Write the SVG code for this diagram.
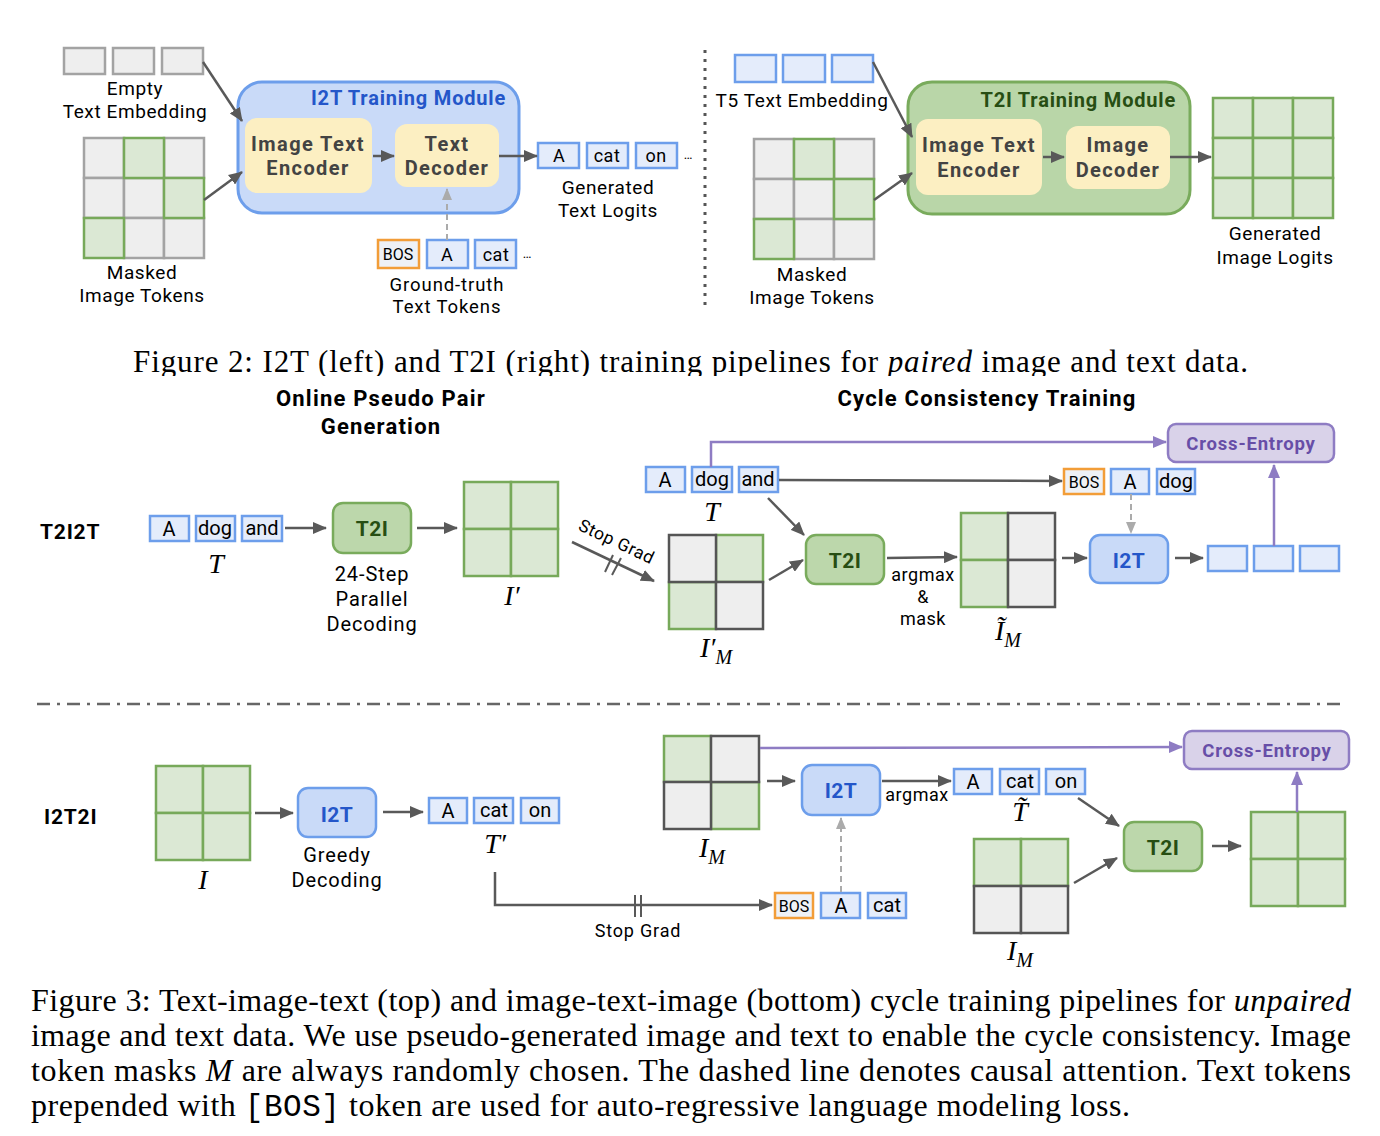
<svg xmlns="http://www.w3.org/2000/svg" width="1380" height="1136" viewBox="0 0 1380 1136">
<defs>
<marker id="ah" markerUnits="userSpaceOnUse" markerWidth="14" markerHeight="12" refX="13" refY="6" orient="auto"><path d="M0,0 L14,6 L0,12 z" fill="#595959"/></marker>
<marker id="ahl" markerUnits="userSpaceOnUse" markerWidth="12" markerHeight="10" refX="11" refY="5" orient="auto"><path d="M0,0 L12,5 L0,10 z" fill="#ababab"/></marker>
<marker id="ahp" markerUnits="userSpaceOnUse" markerWidth="14" markerHeight="12" refX="13" refY="6" orient="auto"><path d="M0,0 L14,6 L0,12 z" fill="#8e7cc3"/></marker>
<clipPath id="capclip"><rect x="0" y="330" width="1380" height="46"/></clipPath>
</defs>
<style>
text{font-family:Roboto,"Liberation Sans",sans-serif;fill:#000}
.lbl{font-size:19px;letter-spacing:0.6px;text-anchor:middle}
.lb2{font-size:20px;letter-spacing:0.9px;text-anchor:middle}
.sm{font-size:18px;letter-spacing:0.5px;text-anchor:middle}
.tokb{font-size:20px;text-anchor:middle}
.bold{font-weight:bold}
.hd{font-size:22px;font-weight:bold;letter-spacing:1.2px;text-anchor:middle}
.ttl{font-size:20px;font-weight:bold;letter-spacing:0.8px;text-anchor:end}
.yb{fill:#fcefc2}
.ytx{font-size:20px;font-weight:bold;letter-spacing:1.4px;fill:#434343;text-anchor:middle}
.t{fill:#e4ecfb;stroke:#6d9eeb;stroke-width:2.5}
.bos{fill:#eef1f6;stroke:#f29d38;stroke-width:2.5}
.ge{fill:#eeeeee;stroke:#a3a3a3;stroke-width:2.5}
.gd{fill:#eeeeee;stroke:#555555;stroke-width:2.5}
.gr{fill:#dbe8d4;stroke:#77a95a;stroke-width:2.5}
.arr{stroke:#595959;stroke-width:2.5;fill:none;marker-end:url(#ah)}
.dash{stroke:#ababab;stroke-width:2;fill:none;stroke-dasharray:6 4;marker-end:url(#ahl)}
.pur{stroke:#8e7cc3;stroke-width:2.5;fill:none;marker-end:url(#ahp)}
.blk{fill:#c9daf8;stroke:#6d9eeb;stroke-width:2.5}
.blt{font-size:21px;font-weight:bold;letter-spacing:0.5px;fill:#2456c9;text-anchor:middle}
.gnk{fill:#bcd7ab;stroke:#79ab5c;stroke-width:2.5}
.gnt{font-size:21px;font-weight:bold;letter-spacing:0.5px;fill:#274e13;text-anchor:middle}
.ce{fill:#d9d2e9;stroke:#8e7cc3;stroke-width:2.5}
.cet{font-size:18.5px;font-weight:bold;letter-spacing:0.8px;fill:#674ea7;text-anchor:middle}
.row{font-size:21px;font-weight:bold;letter-spacing:0.8px}
.bost{font-size:16px;text-anchor:middle}
.m{font-family:"Liberation Serif",serif;font-style:italic;font-size:28px;text-anchor:middle}
.cap{font-family:"Liberation Serif",serif;font-size:32px}
</style>

<!-- ================= Figure 2 ================= -->
<g id="empty-embedding">
<rect class="ge" x="64" y="48" width="41" height="26"/>
<rect class="ge" x="113" y="48" width="41" height="26"/>
<rect class="ge" x="162" y="48" width="41" height="26"/>
<text class="lbl" x="135" y="95">Empty</text>
<text class="lbl" x="135" y="118">Text Embedding</text>
</g>
<g id="masked-tokens-left">
<rect class="ge" x="84" y="138" width="40" height="40"/>
<rect class="ge" x="164" y="138" width="40" height="40"/>
<rect class="ge" x="84" y="178" width="40" height="40"/>
<rect class="ge" x="124" y="178" width="40" height="40"/>
<rect class="ge" x="124" y="218" width="40" height="40"/>
<rect class="ge" x="164" y="218" width="40" height="40"/>
<rect class="gr" x="124" y="138" width="40" height="40"/>
<rect class="gr" x="164" y="178" width="40" height="40"/>
<rect class="gr" x="84" y="218" width="40" height="40"/>
<text class="lbl" x="142" y="279">Masked</text>
<text class="lbl" x="142" y="302">Image Tokens</text>
</g>
<g id="i2t-module">
<rect x="238" y="82" width="281" height="131" rx="24" fill="#c9daf8" stroke="#6d9eeb" stroke-width="3"/>
<text x="506" y="105" class="ttl" style="fill:#2456c9">I2T Training Module</text>
<rect class="yb" x="245" y="118" width="127" height="75" rx="12"/>
<text class="ytx" x="308" y="151">Image Text</text>
<text class="ytx" x="308" y="175">Encoder</text>
<rect class="yb" x="395" y="124" width="104" height="63" rx="12"/>
<text class="ytx" x="447" y="151">Text</text>
<text class="ytx" x="447" y="175">Decoder</text>
</g>
<g id="generated-text">
<rect class="t" x="538" y="143" width="41" height="25"/>
<rect class="t" x="587" y="143" width="41" height="25"/>
<rect class="t" x="636" y="143" width="41" height="25"/>
<text class="sm" x="559" y="162">A</text>
<text class="sm" x="607" y="162">cat</text>
<text class="sm" x="656" y="162">on</text>
<text x="688" y="159" style="font-size:13px;text-anchor:middle">…</text>
<text class="lbl" x="608" y="194">Generated</text>
<text class="lbl" x="608" y="217">Text Logits</text>
</g>
<g id="gt-tokens">
<rect class="bos" x="378" y="240" width="41" height="28"/>
<rect class="t" x="427" y="240" width="41" height="28"/>
<rect class="t" x="475" y="240" width="41" height="28"/>
<text class="bost" x="398" y="260">BOS</text>
<text class="sm" x="447" y="261">A</text>
<text class="sm" x="496" y="261">cat</text>
<text x="527" y="258" style="font-size:13px;text-anchor:middle">…</text>
<text class="lbl" style="font-size:18.5px;letter-spacing:0.9px" x="447" y="291">Ground-truth</text>
<text class="lbl" style="font-size:18.5px;letter-spacing:0.9px" x="447" y="313">Text Tokens</text>
</g>
<g id="t5-embedding">
<rect class="t" x="735" y="55" width="41" height="27"/>
<rect class="t" x="783" y="55" width="42" height="27"/>
<rect class="t" x="832" y="55" width="41" height="27"/>
<text class="lbl" x="802" y="107">T5 Text Embedding</text>
</g>
<g id="masked-tokens-right">
<rect class="ge" x="754" y="139" width="40" height="40"/>
<rect class="ge" x="834" y="139" width="40" height="40"/>
<rect class="ge" x="754" y="179" width="40" height="40"/>
<rect class="ge" x="794" y="179" width="40" height="40"/>
<rect class="ge" x="794" y="219" width="40" height="40"/>
<rect class="ge" x="834" y="219" width="40" height="40"/>
<rect class="gr" x="794" y="139" width="40" height="40"/>
<rect class="gr" x="834" y="179" width="40" height="40"/>
<rect class="gr" x="754" y="219" width="40" height="40"/>
<text class="lbl" x="812" y="281">Masked</text>
<text class="lbl" x="812" y="304">Image Tokens</text>
</g>
<g id="t2i-module">
<rect x="908" y="82" width="282" height="132" rx="24" fill="#b9d6a8" stroke="#79ab5c" stroke-width="3"/>
<text x="1176" y="107" class="ttl" style="fill:#274e13">T2I Training Module</text>
<rect class="yb" x="916" y="119" width="126" height="76" rx="12"/>
<text class="ytx" x="979" y="152">Image Text</text>
<text class="ytx" x="979" y="177">Encoder</text>
<rect class="yb" x="1066" y="126" width="104" height="63" rx="12"/>
<text class="ytx" x="1118" y="152">Image</text>
<text class="ytx" x="1118" y="177">Decoder</text>
</g>
<g id="generated-image">
<rect class="gr" x="1213" y="98" width="40" height="40"/>
<rect class="gr" x="1253" y="98" width="40" height="40"/>
<rect class="gr" x="1293" y="98" width="40" height="40"/>
<rect class="gr" x="1213" y="138" width="40" height="40"/>
<rect class="gr" x="1253" y="138" width="40" height="40"/>
<rect class="gr" x="1293" y="138" width="40" height="40"/>
<rect class="gr" x="1213" y="178" width="40" height="40"/>
<rect class="gr" x="1253" y="178" width="40" height="40"/>
<rect class="gr" x="1293" y="178" width="40" height="40"/>
<text class="lbl" x="1275" y="240">Generated</text>
<text class="lbl" x="1275" y="264">Image Logits</text>
</g>
<g id="fig2-connectors">
<line class="arr" x1="203" y1="62" x2="242" y2="121"/>
<line class="arr" x1="204" y1="200" x2="242" y2="172"/>
<line class="arr" x1="373" y1="156" x2="394" y2="156"/>
<line class="arr" x1="499" y1="156" x2="537" y2="156"/>
<line class="dash" x1="447" y1="240" x2="447" y2="189"/>
<line x1="705" y1="50" x2="705" y2="310" stroke="#555" stroke-width="3" stroke-dasharray="3 6"/>
<line class="arr" x1="873" y1="62" x2="912" y2="137"/>
<line class="arr" x1="874" y1="200" x2="912" y2="173"/>
<line class="arr" x1="1043" y1="157" x2="1064" y2="157"/>
<line class="arr" x1="1170" y1="157" x2="1211" y2="157"/>
</g>
<g id="caption2" clip-path="url(#capclip)">
<text class="cap" style="font-size:31px" x="133" y="372" textLength="1115" lengthAdjust="spacing">Figure 2: I2T (left) and T2I (right) training pipelines for <tspan font-style="italic">paired</tspan> image and text data.</text>
</g>

<!-- ================= Figure 3 ================= -->
<g id="headers">
<text class="hd" x="381" y="406">Online Pseudo Pair</text>
<text class="hd" x="381" y="434">Generation</text>
<text class="hd" x="987" y="406">Cycle Consistency Training</text>
<text class="row" x="40" y="539">T2I2T</text>
<text class="row" x="44" y="824">I2T2I</text>
</g>

<!-- T2I2T row -->
<g id="t2i2t-T">
<rect class="t" x="150" y="516" width="39" height="25"/>
<rect class="t" x="196" y="516" width="39" height="25"/>
<rect class="t" x="242" y="516" width="40" height="25"/>
<text class="tokb" x="169" y="536">A</text>
<text class="tokb" x="215" y="535">dog</text>
<text class="tokb" x="262" y="535">and</text>
<text class="m" x="216" y="573">T</text>
</g>
<g id="t2i2t-t2i-a">
<rect class="gnk" x="333" y="503" width="78" height="50" rx="10"/>
<text class="gnt" x="372" y="536">T2I</text>
<text class="lb2" x="372" y="581">24-Step</text>
<text class="lb2" x="372" y="606">Parallel</text>
<text class="lb2" x="372" y="631">Decoding</text>
</g>
<g id="t2i2t-Iprime">
<rect class="gr" x="464" y="482" width="47" height="47"/>
<rect class="gr" x="511" y="482" width="47" height="47"/>
<rect class="gr" x="464" y="529" width="47" height="47"/>
<rect class="gr" x="511" y="529" width="47" height="47"/>
<text class="m" x="512" y="605">I′</text>
</g>
<g id="t2i2t-IprimeM">
<rect class="gr" x="716" y="535" width="47" height="47"/>
<rect class="gr" x="669" y="582" width="47" height="47"/>
<rect class="gd" x="669" y="535" width="47" height="47"/>
<rect class="gd" x="716" y="582" width="47" height="47"/>
<text class="m" x="716" y="657">I′<tspan font-size="20" dy="7">M</tspan></text>
</g>
<g id="t2i2t-T2">
<rect class="t" x="646" y="467" width="39" height="25"/>
<rect class="t" x="692" y="467" width="40" height="25"/>
<rect class="t" x="739" y="467" width="39" height="25"/>
<text class="tokb" x="665" y="487">A</text>
<text class="tokb" x="712" y="486">dog</text>
<text class="tokb" x="758" y="486">and</text>
<text class="m" x="712" y="521">T</text>
</g>
<g id="t2i2t-t2i-b">
<rect class="gnk" x="806" y="535" width="78" height="49" rx="10"/>
<text class="gnt" x="845" y="568">T2I</text>
<text class="sm" x="923" y="581">argmax</text>
<text class="sm" x="923" y="603">&amp;</text>
<text class="sm" x="923" y="625">mask</text>
</g>
<g id="t2i2t-ItildeM">
<rect class="gr" x="961" y="513" width="47" height="47"/>
<rect class="gr" x="961" y="560" width="47" height="47"/>
<rect class="gd" x="1008" y="513" width="47" height="47"/>
<rect class="gd" x="1008" y="560" width="47" height="47"/>
<text class="m" x="1008" y="640">Ĩ<tspan font-size="20" dy="7">M</tspan></text>
</g>
<g id="t2i2t-gt">
<rect class="bos" x="1064" y="469" width="40" height="25"/>
<rect class="t" x="1111" y="469" width="38" height="25"/>
<rect class="t" x="1157" y="469" width="38" height="25"/>
<text class="bost" x="1084" y="488">BOS</text>
<text class="tokb" x="1130" y="489">A</text>
<text class="tokb" x="1176" y="488">dog</text>
</g>
<g id="t2i2t-i2t">
<rect class="blk" x="1090" y="535" width="78" height="48" rx="10"/>
<text class="blt" x="1129" y="568">I2T</text>
</g>
<g id="t2i2t-out">
<rect class="t" x="1208" y="546" width="39" height="25"/>
<rect class="t" x="1254" y="546" width="39" height="25"/>
<rect class="t" x="1300" y="546" width="39" height="25"/>
</g>
<g id="t2i2t-ce">
<rect class="ce" x="1168" y="424" width="166" height="38" rx="8"/>
<text class="cet" x="1251" y="450">Cross-Entropy</text>
</g>

<!-- I2T2I row -->
<g id="i2t2i-I">
<rect class="gr" x="156" y="766" width="47" height="47"/>
<rect class="gr" x="203" y="766" width="47" height="47"/>
<rect class="gr" x="156" y="813" width="47" height="47"/>
<rect class="gr" x="203" y="813" width="47" height="47"/>
<text class="m" x="203" y="889">I</text>
</g>
<g id="i2t2i-i2t-a">
<rect class="blk" x="298" y="788" width="78" height="49" rx="10"/>
<text class="blt" x="337" y="822">I2T</text>
<text class="lb2" x="337" y="862">Greedy</text>
<text class="lb2" x="337" y="887">Decoding</text>
</g>
<g id="i2t2i-Tprime">
<rect class="t" x="429" y="798" width="38" height="25"/>
<rect class="t" x="474" y="798" width="39" height="25"/>
<rect class="t" x="521" y="798" width="38" height="25"/>
<text class="tokb" x="448" y="818">A</text>
<text class="tokb" x="494" y="817">cat</text>
<text class="tokb" x="540" y="817">on</text>
<text class="m" x="495" y="853">T′</text>
</g>
<g id="i2t2i-gt">
<rect class="bos" x="775" y="893" width="38" height="25"/>
<rect class="t" x="821" y="893" width="39" height="25"/>
<rect class="t" x="868" y="893" width="38" height="25"/>
<text class="bost" x="794" y="912">BOS</text>
<text class="tokb" x="841" y="913">A</text>
<text class="tokb" x="887" y="912">cat</text>
</g>
<g id="i2t2i-IM-a">
<rect class="gr" x="664" y="736" width="47" height="46"/>
<rect class="gr" x="711" y="782" width="48" height="47"/>
<rect class="gd" x="711" y="736" width="48" height="46"/>
<rect class="gd" x="664" y="782" width="47" height="47"/>
<text class="m" x="712" y="857">I<tspan font-size="20" dy="7">M</tspan></text>
</g>
<g id="i2t2i-i2t-b">
<rect class="blk" x="802" y="765" width="78" height="50" rx="10"/>
<text class="blt" x="841" y="798">I2T</text>
<text class="sm" x="917" y="801">argmax</text>
</g>
<g id="i2t2i-Ttilde">
<rect class="t" x="954" y="769" width="38" height="25"/>
<rect class="t" x="1000" y="769" width="39" height="25"/>
<rect class="t" x="1046" y="769" width="39" height="25"/>
<text class="tokb" x="973" y="789">A</text>
<text class="tokb" x="1020" y="788">cat</text>
<text class="tokb" x="1066" y="788">on</text>
<text class="m" x="1020" y="821">T̃</text>
</g>
<g id="i2t2i-IM-b">
<rect class="gr" x="974" y="839" width="47" height="47"/>
<rect class="gr" x="1021" y="839" width="47" height="47"/>
<rect class="gd" x="974" y="886" width="47" height="47"/>
<rect class="gd" x="1021" y="886" width="47" height="47"/>
<text class="m" x="1020" y="960">I<tspan font-size="20" dy="7">M</tspan></text>
</g>
<g id="i2t2i-t2i">
<rect class="gnk" x="1124" y="822" width="78" height="49" rx="10"/>
<text class="gnt" x="1163" y="855">T2I</text>
</g>
<g id="i2t2i-out">
<rect class="gr" x="1251" y="812" width="47" height="47"/>
<rect class="gr" x="1298" y="812" width="47" height="47"/>
<rect class="gr" x="1251" y="859" width="47" height="47"/>
<rect class="gr" x="1298" y="859" width="47" height="47"/>
</g>
<g id="i2t2i-ce">
<rect class="ce" x="1184" y="731" width="165" height="38" rx="8"/>
<text class="cet" x="1267" y="757">Cross-Entropy</text>
</g>

<g id="fig3-connectors">
<line class="arr" x1="285" y1="528" x2="326" y2="528"/>
<line class="arr" x1="417" y1="528" x2="457" y2="528"/>
<line class="arr" x1="572" y1="542" x2="654" y2="581"/>
<line x1="605" y1="572" x2="613" y2="555" stroke="#595959" stroke-width="2"/>
<line x1="612" y1="575" x2="621" y2="558" stroke="#595959" stroke-width="2"/>
<text transform="translate(614,547) rotate(25.4)" style="font-size:17.5px;letter-spacing:0.5px;text-anchor:middle">Stop Grad</text>
<line class="arr" x1="769" y1="580" x2="803" y2="560"/>
<line class="arr" x1="768" y1="498" x2="804" y2="535"/>
<path class="pur" d="M711,467 V442 H1166"/>
<line class="arr" x1="779" y1="480" x2="1062" y2="481"/>
<line class="dash" x1="1131" y1="494" x2="1131" y2="533"/>
<line class="arr" x1="887" y1="558" x2="957" y2="557"/>
<line class="arr" x1="1062" y1="558" x2="1087" y2="558"/>
<line class="arr" x1="1175" y1="558" x2="1203" y2="558"/>
<line class="pur" x1="1274" y1="546" x2="1274" y2="465"/>

<line x1="37" y1="704" x2="1345" y2="704" stroke="#666" stroke-width="2.5" stroke-dasharray="13 7 3 7"/>

<line class="arr" x1="255" y1="813" x2="293" y2="813"/>
<line class="arr" x1="383" y1="812" x2="423" y2="812"/>
<path class="arr" d="M495,872 V905 H772"/>
<line x1="635" y1="895" x2="635" y2="917" stroke="#595959" stroke-width="2"/>
<line x1="641" y1="895" x2="641" y2="917" stroke="#595959" stroke-width="2"/>
<text class="sm" style="letter-spacing:0.8px" x="638" y="937">Stop Grad</text>
<line class="dash" x1="841" y1="892" x2="841" y2="818"/>
<line class="pur" x1="760" y1="748" x2="1182" y2="747"/>
<line class="arr" x1="767" y1="781" x2="795" y2="781"/>
<line class="arr" x1="882" y1="781" x2="951" y2="781"/>
<line class="arr" x1="1078" y1="798" x2="1119" y2="826"/>
<line class="arr" x1="1074" y1="883" x2="1117" y2="858"/>
<line class="arr" x1="1212" y1="846" x2="1241" y2="846"/>
<line class="pur" x1="1297" y1="812" x2="1297" y2="772"/>
</g>

<g id="caption3">
<text class="cap" x="31" y="1011" textLength="1320" lengthAdjust="spacing">Figure 3: Text-image-text (top) and image-text-image (bottom) cycle training pipelines for <tspan font-style="italic">unpaired</tspan></text>
<text class="cap" x="31" y="1046" textLength="1320" lengthAdjust="spacing">image and text data. We use pseudo-generated image and text to enable the cycle consistency. Image</text>
<text class="cap" x="31" y="1081" textLength="1320" lengthAdjust="spacing">token masks <tspan font-style="italic">M</tspan> are always randomly chosen. The dashed line denotes causal attention. Text tokens</text>
<text class="cap" x="31" y="1116" textLength="1099" lengthAdjust="spacing">prepended with <tspan font-family="Liberation Mono, monospace" font-size="31">[BOS]</tspan> token are used for auto-regressive language modeling loss.</text>
</g>
</svg>
